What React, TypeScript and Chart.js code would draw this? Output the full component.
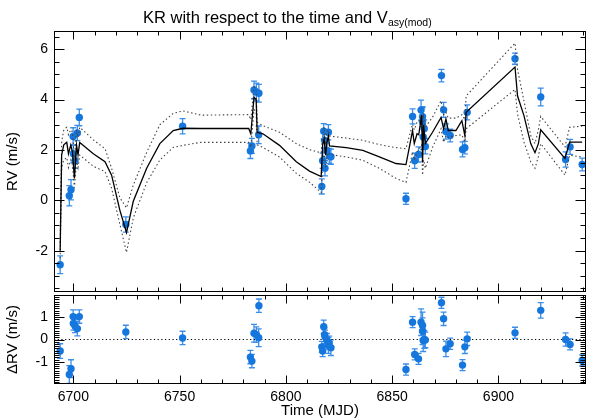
import React, { useEffect, useRef } from 'react';
import { Chart, registerables } from 'chart.js';
Chart.register(...registerables);

const xMin = 6690.9;
const xMax = 6941.2;
const xTickLabels = [6700, 6750, 6800, 6850, 6900];
const rvTickLabels = [-2, 0, 2, 4, 6];
const resTickLabels = [-1, 0, 1];
const rvMin = -3.64;
const rvMax = 6.72;
const resMin = -2;
const resMax = 2;

const obsTime = [
  6693.8, 6698.1, 6698.9, 6699.9, 6700.0, 6700.8, 6701.9, 6702.8, 6724.7, 6751.4,
  6783.3, 6784.0, 6785.0, 6786.1, 6787.2, 6787.3,
  6816.9, 6817.3, 6817.8, 6818.2, 6818.4, 6819.3, 6820.0, 6820.4, 6821.2,
  6856.5, 6859.6, 6860.6, 6862.4, 6863.6, 6864.3, 6864.3, 6864.6, 6865.1, 6865.6,
  6873.2, 6874.2, 6875.3, 6877.3, 6883.1, 6884.2, 6885.3,
  6907.8, 6919.9, 6931.6, 6933.7, 6939.4,
];
const rvValue = [
  -2.56, 0.18, 0.42, 2.53, 1.85, 1.57, 2.67, 3.29, -0.96, 2.94,
  1.96, 2.16, 4.38, 4.30, 2.60, 4.25,
  0.55, 1.57, 2.74, 2.38, 1.27, 1.98, 2.70, 1.76, 1.73,
  0.06, 3.33, 1.57, 1.82, 3.58, 3.32, 3.12, 2.51, 2.84, 2.14,
  4.95, 3.59, 2.73, 2.57, 2.02, 2.09, 3.49,
  5.62, 4.10, 1.62, 2.12, 1.42,
];
const rvError = [
  0.35, 0.4, 0.4, 0.35, 0.35, 0.3, 0.3, 0.33, 0.3, 0.3,
  0.3, 0.3, 0.35, 0.35, 0.35, 0.35,
  0.3, 0.3, 0.3, 0.3, 0.3, 0.3, 0.3, 0.3, 0.3,
  0.22, 0.3, 0.3, 0.3, 0.4, 0.4, 0.55, 0.5, 0.35, 0.3,
  0.25, 0.3, 0.3, 0.25, 0.3, 0.25, 0.3,
  0.22, 0.35, 0.3, 0.3, 0.25,
];
const resValue = [
  -0.52, -1.57, -1.31, 1.03, 0.72, 0.61, 0.49, 1.03, 0.34, 0.07,
  -0.79, -0.97, 0.28, 0.22, 0.08, 1.52,
  -0.33, -0.52, 0.57, 0.22, 0.12, -0.03, -0.27, -0.15, -0.37,
  -1.35, 0.78, -0.67, -0.87, 0.78, 0.63, 0.37, -0.04, 0.0, -0.02,
  1.65, 0.93, -0.42, -0.19, -1.15, -0.33, 0.03,
  0.30, 1.31, 0.0, -0.22, -0.94,
];
const resError = [
  0.33, 0.4, 0.4, 0.3, 0.3, 0.3, 0.33, 0.3, 0.3, 0.3,
  0.3, 0.3, 0.4, 0.35, 0.4, 0.3,
  0.25, 0.25, 0.3, 0.3, 0.3, 0.3, 0.35, 0.3, 0.35,
  0.25, 0.25, 0.25, 0.25, 0.6, 0.6, 0.6, 0.5, 0.4, 0.35,
  0.25, 0.3, 0.35, 0.25, 0.25, 0.3, 0.3,
  0.25, 0.35, 0.3, 0.25, 0.25,
];

const modelTime = [
  6693.8, 6694.5, 6695.5, 6696.9, 6697.7, 6698.8, 6699.6, 6700.5, 6701.5, 6702.2, 6703.0,
  6709.4, 6714.9, 6718.0, 6721.9, 6725.0, 6728.2, 6734.5, 6740.7, 6747.0, 6751.6, 6760.0,
  6782.5, 6783.5, 6785.0, 6786.0, 6786.5, 6789.2, 6797.0, 6804.9, 6811.1, 6816.6,
  6817.3, 6818.0, 6818.7, 6819.3, 6820.0, 6820.5, 6828.4, 6836.2, 6844.0, 6851.8, 6856.5,
  6859.6, 6860.4, 6861.7, 6862.5, 6863.9, 6864.3, 6864.8, 6865.6, 6869.0, 6873.0, 6874.2,
  6875.3, 6876.4, 6880.0, 6882.8, 6884.2, 6884.8, 6907.8, 6909.0, 6912.0, 6915.2, 6917.2,
  6918.8, 6919.9, 6931.3, 6933.5, 6939.4,
];
const modelRV = [
  -2.0, 1.8, 2.2, 2.3, 1.85, 2.2, 1.9, 0.87, 2.2, 1.8, 2.29,
  1.85, 1.53, 1.0, -0.4, -1.28, -0.04, 1.27, 2.25, 2.77, 2.86, 2.85,
  2.85, 2.64, 4.08, 4.0, 2.7, 2.64, 2.18, 1.53, 1.16, 0.94,
  2.2, 2.44, 1.8, 2.3, 2.55, 2.16, 2.09, 1.98, 1.72, 1.46, 1.42,
  2.77, 2.25, 2.64, 2.6, 3.38, 1.5, 3.0, 2.25, 2.7, 3.29, 2.84,
  3.23, 2.77, 2.77, 3.16, 2.57, 3.49, 5.29, 4.14, 3.36, 2.25, 1.89,
  2.25, 2.8, 1.66, 2.31, 2.31,
];
const modelUpper = [
  -1.7, 2.3, 2.8, 2.9, 2.6, 2.8, 2.7, 1.6, 2.8, 2.5, 2.9,
  2.4, 2.05, 1.27, 0.1, -0.3, 0.6, 1.9, 3.0, 3.45, 3.55, 3.38,
  3.4, 3.2, 4.5, 4.4, 3.1, 2.96, 2.7, 2.25, 2.01, 1.88,
  2.6, 2.9, 2.3, 2.7, 2.8, 2.55, 2.47, 2.38, 2.21, 2.09, 2.05,
  3.03, 2.8, 3.1, 3.1, 3.4, 2.6, 3.3, 2.9, 3.3, 3.95, 3.4,
  3.5, 3.26, 3.26, 3.4, 3.2, 4.14, 6.24, 5.19, 3.95, 2.57, 2.25,
  2.8, 3.33, 2.12, 2.9, 2.94,
];
const modelLower = [
  -2.3, 1.3, 1.6, 1.7, 1.3, 1.6, 1.4, 0.5, 1.6, 1.3, 1.8,
  1.35, 1.14, 0.48, -0.96, -2.07, -0.7, 0.7, 1.6, 2.1, 2.18, 2.3,
  2.3, 2.1, 3.6, 3.5, 2.2, 2.1, 1.72, 1.07, 0.72, 0.31,
  1.5, 1.9, 1.3, 1.7, 1.9, 1.82, 1.72, 1.59, 1.27, 0.87, 0.71,
  1.92, 1.6, 1.9, 2.0, 2.2, 1.0, 1.6, 1.27, 2.1, 2.84, 2.3,
  2.57, 2.5, 2.57, 2.6, 2.31, 2.84, 4.4, 3.42, 2.31, 1.53, 1.27,
  1.74, 2.25, 1.0, 1.79, 1.72,
];

const xMinorStep = 10;
const rvMinorStep = 0.5;
const resMinorStep = 0.1;

const FONT = "'Liberation Sans', Arial, Helvetica, sans-serif";
const POINT_COLOR = '#1577dd';
const ERR_COLOR = '#3a8ee8';

function stepsBetween(lo: number, hi: number, step: number): number[] {
  const out: number[] = [];
  const start = Math.ceil(lo / step - 1e-9);
  const end = Math.floor(hi / step + 1e-9);
  for (let k = start; k <= end; k++) out.push(Math.round(k * step * 1000) / 1000);
  return out;
}

const errBarsPlugin = {
  id: 'errbars',
  beforeDatasetsDraw(chart: any, _args: any, opts: any) {
    const { ctx, scales } = chart;
    const xs = scales.x, ys = scales.y;
    ctx.save();
    ctx.strokeStyle = ERR_COLOR;
    ctx.lineWidth = 1.3;
    const cap = 3;
    ctx.beginPath();
    opts.t.forEach((t: number, i: number) => {
      const px = xs.getPixelForValue(t);
      const y1 = ys.getPixelForValue(opts.v[i] + opts.e[i]);
      const y2 = ys.getPixelForValue(opts.v[i] - opts.e[i]);
      ctx.moveTo(px, y1); ctx.lineTo(px, y2);
      ctx.moveTo(px - cap, y1); ctx.lineTo(px + cap, y1);
      ctx.moveTo(px - cap, y2); ctx.lineTo(px + cap, y2);
    });
    ctx.stroke();
    ctx.restore();
  },
};

const framePlugin = {
  id: 'frame',
  afterDatasetsDraw(chart: any, _args: any, opts: any) {
    const { ctx, chartArea: a, scales } = chart;
    const xs = scales.x, ys = scales.y;
    const L = Math.round(a.left) + 0.5;
    const R = Math.round(a.right) - 0.5;
    const T = Math.round(a.top) + 0.5;
    const B = Math.round(a.bottom) - 0.5;
    ctx.save();
    ctx.strokeStyle = '#000';
    ctx.lineWidth = 1;
    ctx.strokeRect(L, T, R - L, B - T);
    ctx.beginPath();
    const xTick = (v: number, len: number) => {
      const p = Math.round(xs.getPixelForValue(v)) + 0.5;
      if (p < L || p > R) return;
      ctx.moveTo(p, T); ctx.lineTo(p, T + len);
      ctx.moveTo(p, B); ctx.lineTo(p, B - len);
    };
    const yTick = (v: number, len: number) => {
      const p = Math.round(ys.getPixelForValue(v)) + 0.5;
      if (p < T || p > B) return;
      ctx.moveTo(L, p); ctx.lineTo(L + len, p);
      ctx.moveTo(R, p); ctx.lineTo(R - len, p);
    };
    stepsBetween(xs.min, xs.max, opts.xMinor).forEach((v) => {
      xTick(v, opts.xMajor.includes(v) ? 8 : 4);
    });
    stepsBetween(ys.min, ys.max, opts.yMinor).forEach((v) => {
      yTick(v, opts.yMajor.includes(v) ? 10 : 5);
    });
    ctx.stroke();
    ctx.restore();
  },
};

function lineData(ys: number[]) {
  return modelTime.map((t, i) => ({ x: t, y: ys[i] }));
}

function fitY(s: any) {
  s.width = 54;
  s.paddingTop = 0; s.paddingBottom = 0; s.paddingLeft = 0; s.paddingRight = 0;
}
function fitX(s: any) {
  s.height = 36;
  s.paddingTop = 0; s.paddingBottom = 0; s.paddingLeft = 0; s.paddingRight = 0;
}

const noGrid = { display: false, drawTicks: false, tickLength: 0 };

export default function App() {
  const topRef = useRef<HTMLCanvasElement>(null);
  const botRef = useRef<HTMLCanvasElement>(null);

  useEffect(() => {
    Chart.defaults.font.family = FONT;
    Chart.defaults.color = '#000';

    const top = new Chart(topRef.current as HTMLCanvasElement, {
      type: 'scatter',
      data: {
        datasets: [
          { label: 'model', data: lineData(modelRV), showLine: true, borderColor: '#000', borderWidth: 1.3, pointRadius: 0, order: 0 } as any,
          { label: 'upper', data: lineData(modelUpper), showLine: true, borderColor: '#444', borderWidth: 1.1, borderDash: [1.5, 2.5], pointRadius: 0, order: 0 } as any,
          { label: 'lower', data: lineData(modelLower), showLine: true, borderColor: '#444', borderWidth: 1.1, borderDash: [1.5, 2.5], pointRadius: 0, order: 0 } as any,
          { label: 'RV', data: obsTime.map((t, i) => ({ x: t, y: rvValue[i] })), pointRadius: 3.7, backgroundColor: POINT_COLOR, borderWidth: 0, order: 1 } as any,
        ],
      },
      options: {
        responsive: false,
        animation: false,
        layout: { padding: { left: 0, right: 3, top: 31, bottom: 0 } },
        plugins: {
          legend: { display: false },
          tooltip: { enabled: false },
          errbars: { t: obsTime, v: rvValue, e: rvError },
          frame: { xMajor: xTickLabels, xMinor: xMinorStep, yMajor: rvTickLabels, yMinor: rvMinorStep },
        } as any,
        scales: {
          x: { type: 'linear', min: xMin, max: xMax, display: false },
          y: {
            type: 'linear', min: rvMin, max: rvMax,
            grid: noGrid, border: { display: false },
            afterFit: fitY,
            afterBuildTicks: (s: any) => { s.ticks = rvTickLabels.map((v) => ({ value: v })); },
            ticks: { padding: 6, color: '#000', font: { size: 14 }, callback: (v: any) => String(v) },
            title: { display: true, text: 'RV (m/s)', color: '#000', font: { size: 15 }, padding: { top: 4, bottom: 4 } },
          },
        },
      } as any,
      plugins: [errBarsPlugin, framePlugin],
    });

    const bot = new Chart(botRef.current as HTMLCanvasElement, {
      type: 'scatter',
      data: {
        datasets: [
          { label: 'zero', data: [{ x: xMin, y: 0 }, { x: xMax, y: 0 }], showLine: true, borderColor: '#000', borderWidth: 1.1, borderDash: [1.2, 2.5], pointRadius: 0, order: 2 } as any,
          { label: 'dRV', data: obsTime.map((t, i) => ({ x: t, y: resValue[i] })), pointRadius: 3.7, backgroundColor: POINT_COLOR, borderWidth: 0, order: 1 } as any,
        ],
      },
      options: {
        responsive: false,
        animation: false,
        layout: { padding: { left: 0, right: 3, top: 5, bottom: 0 } },
        plugins: {
          legend: { display: false },
          tooltip: { enabled: false },
          errbars: { t: obsTime, v: resValue, e: resError },
          frame: { xMajor: xTickLabels, xMinor: xMinorStep, yMajor: resTickLabels, yMinor: resMinorStep },
        } as any,
        scales: {
          x: {
            type: 'linear', min: xMin, max: xMax,
            grid: noGrid, border: { display: false },
            afterFit: fitX,
            afterBuildTicks: (s: any) => { s.ticks = xTickLabels.map((v) => ({ value: v })); },
            ticks: { padding: 5, color: '#000', font: { size: 14 }, maxRotation: 0, autoSkip: false, callback: (v: any) => String(v) },
            title: { display: true, text: 'Time (MJD)', color: '#000', font: { size: 15 }, padding: { top: 0, bottom: 0 } },
          },
          y: {
            type: 'linear', min: resMin, max: resMax,
            grid: noGrid, border: { display: false },
            afterFit: fitY,
            afterBuildTicks: (s: any) => { s.ticks = resTickLabels.map((v) => ({ value: v })); },
            ticks: { padding: 6, color: '#000', font: { size: 14 }, callback: (v: any) => String(v) },
            title: { display: true, text: 'ΔRV (m/s)', color: '#000', font: { size: 15 }, padding: { top: 4, bottom: 4 } },
          },
        },
      } as any,
      plugins: [errBarsPlugin, framePlugin],
    });

    return () => { top.destroy(); bot.destroy(); };
  }, []);

  return (
    <div style={{ position: 'fixed', left: 0, top: 0, width: 590, height: 420, background: '#fff', overflow: 'hidden' }}>
      <div style={{ position: 'absolute', left: 0, top: 0 }}>
        <canvas ref={topRef} width={590} height={296} />
      </div>
      <div style={{ position: 'absolute', left: 0, top: 290 }}>
        <canvas ref={botRef} width={590} height={130} />
      </div>
      <div style={{ position: 'absolute', left: 143, top: 9, fontFamily: FONT, fontSize: 16.5, lineHeight: '17px', whiteSpace: 'nowrap', color: '#000' }}>
        KR with respect to the time and V
        <span style={{ fontSize: 10.5, position: 'relative', top: 3 }}>asy(mod)</span>
      </div>
    </div>
  );
}
